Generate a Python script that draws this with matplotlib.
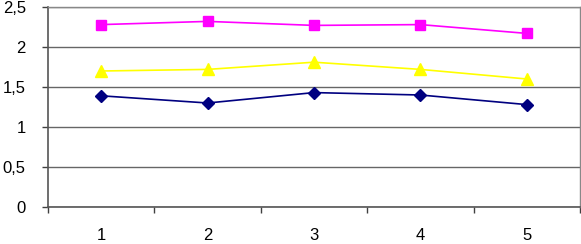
import matplotlib
matplotlib.use("Agg")
import matplotlib.pyplot as plt
from matplotlib.ticker import FixedLocator, FuncFormatter

categories = ["1", "2", "3", "4", "5"]
series_pink = [2.28, 2.32, 2.27, 2.28, 2.17]
series_yellow = [1.70, 1.72, 1.81, 1.72, 1.60]
series_navy = [1.39, 1.30, 1.43, 1.40, 1.28]
y_ticks = [0, 0.5, 1, 1.5, 2, 2.5]

plt.rcParams['font.family'] = ['Liberation Sans', 'DejaVu Sans']

fig = plt.figure(figsize=(5.81, 2.44), dpi=100)
ax = fig.add_axes([48/581, 37/244, 532/581, 200/244])

x = list(range(len(categories)))
ax.plot(x, series_pink, color='#FF00FF', marker='s', markersize=7.5, linewidth=1.2, zorder=3)
ax.plot(x, series_yellow, color='#FFFF00', marker='^', markersize=8, linewidth=1.2, zorder=3)
ax.plot(x, series_navy, color='#000080', marker='D', markersize=6, linewidth=1.2, zorder=3)

ax.set_xlim(-0.5, len(categories) - 0.5)
ax.set_ylim(0, 2.5)
ax.set_yticks(y_ticks)
ax.yaxis.set_major_formatter(FuncFormatter(lambda v, p: ('%g' % v).replace('.', ',')))
ax.set_xticks(x)
ax.set_xticklabels(categories)
ax.xaxis.set_minor_locator(FixedLocator([i - 0.5 for i in range(len(categories) + 1)]))
ax.tick_params(axis='x', which='major', length=0, pad=15, labelsize=12)
ax.tick_params(axis='x', which='minor', length=4, width=1, color='#404040')
ax.tick_params(axis='y', length=4, width=1, color='#404040', pad=12, labelsize=12)

ax.grid(axis='y', color='#666666', linewidth=1)
ax.set_axisbelow(True)
for s in ['left', 'bottom']:
    ax.spines[s].set_color('#555555')
    ax.spines[s].set_linewidth(1.2)
for s in ['top', 'right']:
    ax.spines[s].set_color('#888888')
    ax.spines[s].set_linewidth(1)

fig.savefig('out.png', dpi=100)
